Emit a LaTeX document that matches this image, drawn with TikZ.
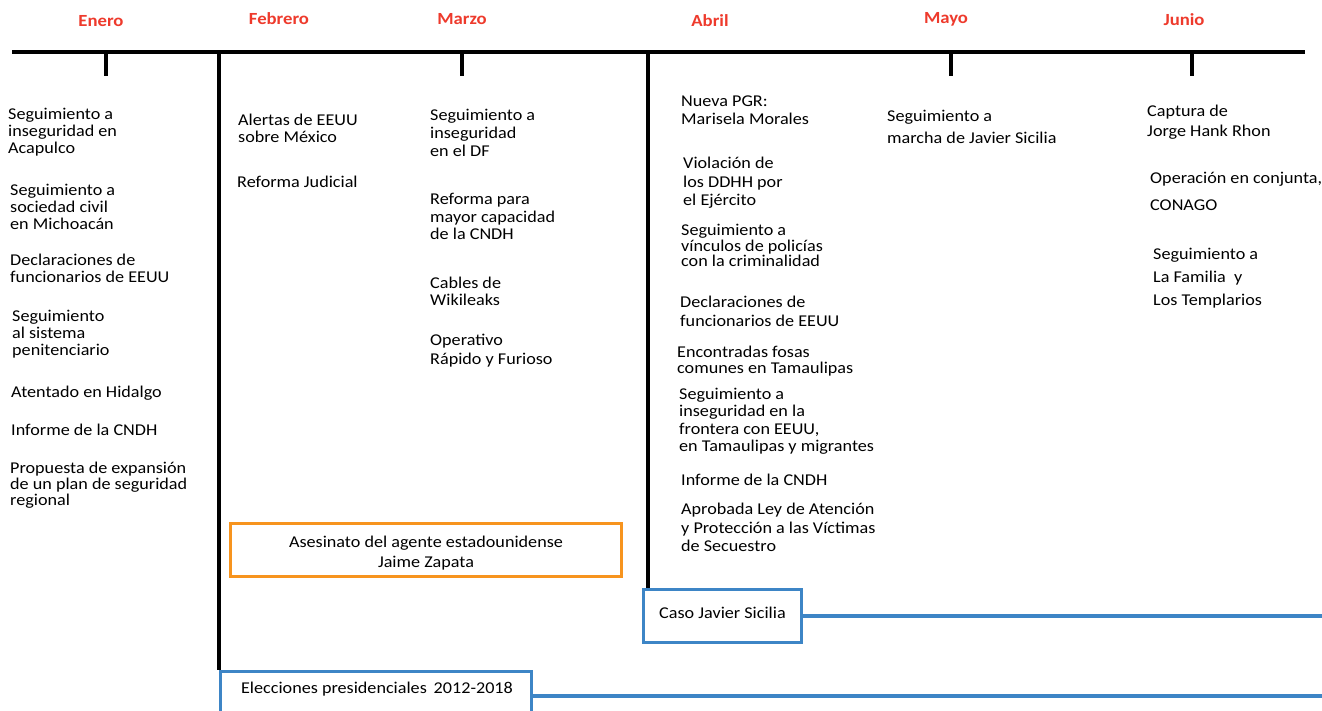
\documentclass[tikz,border=0pt]{standalone}
\usepackage{fontspec}
\setmainfont{Carlito}[FakeStretch=1.1]
\definecolor{mred}{HTML}{EE3A2C}
\definecolor{morange}{HTML}{F7941E}
\definecolor{mblue}{HTML}{3D85C6}
\begin{document}
\begin{tikzpicture}[x=1pt,y=-1pt,
  ev/.style={anchor=north west,inner sep=0pt,align=left,font=\fontsize{16.5}{17}\selectfont},
  month/.style={inner sep=0pt,font=\bfseries\fontsize{17}{18}\selectfont,text=mred},
  axis/.style={line width=4pt},
  tick/.style={line width=3.5pt},
  obox/.style={draw=morange,line width=3.5pt,inner sep=0pt},
  bbox/.style={draw=mblue,line width=3.5pt,inner sep=0pt,font=\fontsize{16.5}{17}\selectfont},
  boxtext/.style={inner sep=0pt,align=center,font=\fontsize{16.5}{20}\selectfont},
  bline/.style={draw=mblue,line width=4pt}]
\useasboundingbox (0,0) rectangle (1322,710);
\fill[white] (0,0) rectangle (1322,710);
% months
\node[month] (mene) at (101,21) {Enero};
\node[month] (mfeb) at (279,19) {Febrero};
\node[month] (mmar) at (462,19) {Marzo};
\node[month] (mabr) at (710,21) {Abril};
\node[month] (mmay) at (946,19) {Mayo};
\node[month] (mjun) at (1184,20) {Junio};
% timeline
\coordinate (ts) at (12,52);
\coordinate (te) at (1305,52);
\draw[axis] (ts) -- (te);
\coordinate (tene) at (106,52);
\coordinate (tmar) at (462,52);
\coordinate (tmay) at (951,52);
\coordinate (tjun) at (1192,52);
\coordinate (tfeb) at (219,52);
\coordinate (tabr) at (648,52);
\foreach \t in {tene,tmar,tmay,tjun} \draw[tick] (\t) -- ++(0,24);
% boxes
\node[obox,minimum width=391,minimum height=53] (zapata) at (426,550) {};
\node[boxtext] (zapatatxt) at (426,553) {Asesinato del agente estadounidense\\Jaime Zapata};
\node[bbox,minimum width=158,minimum height=53] (caso) at (722.5,616) {};
\node[boxtext] (casotxt) at (722.5,613) {Caso Javier Sicilia};
\node[bbox,minimum width=311,minimum height=50,anchor=north] (elec) at (376,669.5) {};
\node[boxtext] (electxt) at (377,689) {Elecciones presidenciales\, 2012-2018};
\coordinate (casoend) at (1330,616);
\coordinate (elecend) at (1330,694);
\draw[bline] (caso.east) -- (caso.east -| casoend);
\draw[bline] (elec.east) -- (elec.east -| elecend);
\draw[tick] (tfeb) -- (tfeb |- elec.north);
\draw[tick] (tabr) -- (tabr |- caso.north);
% Enero
\node[ev] (e1) at (8,108) {Seguimiento a\\inseguridad en\\Acapulco};
\node[ev] (e2) at (10,184) {Seguimiento a\\sociedad civil\\en Michoacán};
\node[ev] (e3) at (10,254) {Declaraciones de\\funcionarios de EEUU};
\node[ev] (e4) at (12,310) {Seguimiento\\al sistema\\penitenciario};
\node[ev] (e5) at (11,386) {Atentado en Hidalgo};
\node[ev] (e6) at (11,424) {Informe de la CNDH};
\node[ev,font=\fontsize{16.5}{16}\selectfont] (e7) at (10,462) {Propuesta de expansión\\de un plan de seguridad\\regional};
% Febrero
\node[ev] (f1) at (238,114) {Alertas de EEUU\\sobre México};
\node[ev] (f2) at (237,176) {Reforma Judicial};
% Marzo
\node[ev,font=\fontsize{16.5}{18}\selectfont] (r1) at (430,109) {Seguimiento a\\inseguridad\\en el DF};
\node[ev,font=\fontsize{16.5}{17.5}\selectfont] (r2) at (430,193) {Reforma para\\mayor capacidad\\de la CNDH};
\node[ev] (r3) at (430,277) {Cables de\\Wikileaks};
\node[ev,font=\fontsize{16.5}{19}\selectfont] (r4) at (430,334) {Operativo\\Rápido y Furioso};
% Abril
\node[ev,font=\fontsize{16.5}{18}\selectfont] (a1) at (681,96) {Nueva PGR:\\Marisela Morales};
\node[ev,font=\fontsize{16.5}{18.5}\selectfont] (a2) at (683,157) {Violación de\\los DDHH por\\el Ejército};
\node[ev,font=\fontsize{16.5}{15.5}\selectfont] (a3) at (681,224) {Seguimiento a\\vínculos de policías\\con la criminalidad};
\node[ev,font=\fontsize{16.5}{19}\selectfont] (a4) at (680,296) {Declaraciones de\\funcionarios de EEUU};
\node[ev,font=\fontsize{16.5}{16}\selectfont] (a5) at (677,346) {Encontradas fosas\\comunes en Tamaulipas};
\node[ev,font=\fontsize{16.5}{17.3}\selectfont] (a6) at (679,388) {Seguimiento a\\inseguridad en la\\frontera con EEUU,\\en Tamaulipas y migrantes};
\node[ev] (a7) at (681,474) {Informe de la CNDH};
\node[ev,font=\fontsize{16.5}{18.5}\selectfont] (a8) at (681,503) {Aprobada Ley de Atención\\y Protección a las Víctimas\\de Secuestro};
% Mayo
\node[ev,font=\fontsize{16.5}{22}\selectfont] (y1) at (887,110) {Seguimiento a\\marcha de Javier Sicilia};
% Junio
\node[ev,font=\fontsize{16.5}{20}\selectfont] (j1) at (1147,105) {Captura de\\Jorge Hank Rhon};
\node[ev,font=\fontsize{16.5}{27}\selectfont] (j2) at (1150,172) {Operación en conjunta,\\CONAGO};
\node[ev,font=\fontsize{16.5}{23}\selectfont] (j3) at (1153,248) {Seguimiento a\\La Familia\ \ y\\Los Templarios};
\end{tikzpicture}
\end{document}
